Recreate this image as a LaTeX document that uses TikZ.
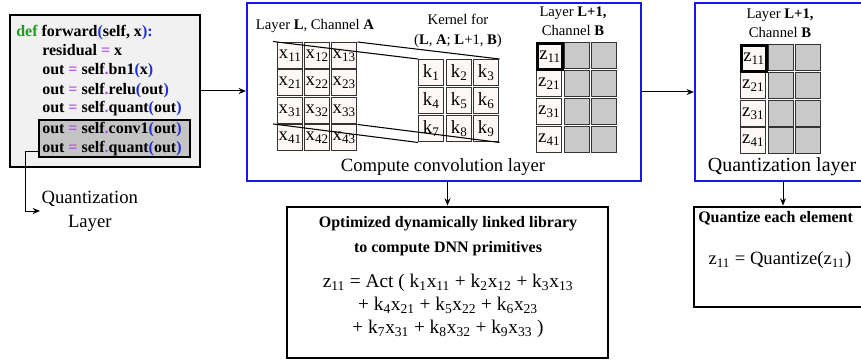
\documentclass[tikz,border=0pt]{standalone}
\usepackage{fontspec}
\setmainfont{Liberation Serif}
\usetikzlibrary{fit,arrows.meta,calc}

\definecolor{kwgreen}{HTML}{1E9E1E}
\definecolor{opviolet}{HTML}{B04FE6}
\definecolor{parblue}{HTML}{1F2FD6}
\definecolor{codebg}{HTML}{F1F1F1}
\definecolor{hlgray}{HTML}{C4C4C4}
\definecolor{cellfill}{HTML}{FDF8F6}
\definecolor{cellgray}{HTML}{C9C9C9}
\definecolor{frameblue}{HTML}{1A1AE6}

% syntax colouring for the code listing
\newcommand\kw[1]{\textcolor{kwgreen}{#1}}
\newcommand\opr[1]{\textcolor{opviolet}{#1}}
\newcommand\pn[1]{\textcolor{parblue}{#1}}
\newcommand\sbs[1]{\textsubscript{#1}}

\begin{document}
\begin{tikzpicture}[x=0.75pt,y=-0.75pt,
  >={Stealth[length=5.5pt,width=4.5pt]},
  conn/.style={->,line width=0.75pt},
  codeline/.style={anchor=base west,inner sep=0pt,font=\fontsize{12}{14}\selectfont\bfseries},
  cell/.style={draw=black!80,line width=1.1pt,fill=cellfill,minimum width=18.75pt,
    minimum height=19.5pt,inner sep=0pt,anchor=north west,font=\fontsize{14}{14}\selectfont},
  graycell/.style={cell,fill=cellgray},
  zfirst/.style={cell,draw=black,line width=2.4pt},
  bluebox/.style={draw=frameblue,line width=1.6pt,inner sep=0pt},
  blackbox/.style={draw=black,line width=2.2pt,inner sep=0pt},
  label/.style={font=\fontsize{11}{14.5}\selectfont,align=center,inner sep=0pt}]

\useasboundingbox (0,0) rectangle (861,360);
\clip (0,0) rectangle (861,360);

% ---------- code listing ----------
\node[fit={(10,15) (200,167)},draw,line width=1.9pt,fill=codebg,inner sep=0pt] (code) {};
\node[fit={(39,120) (190,157)},draw,line width=0.8pt,fill=hlgray,inner sep=0pt] (hl) {};
\node[codeline] (c1) at (16,37) {\kw{def} forward\pn{(}self, x\pn{):}};
\node[codeline] (c2) at (42,56) {residual \opr{=} x};
\node[codeline] (c3) at (42,75) {out \opr{=} self\opr{.}bn1\pn{(}x\pn{)}};
\node[codeline] (c4) at (42,94) {out \opr{=} self\opr{.}relu\pn{(}out\pn{)}};
\node[codeline] (c5) at (42,113) {out \opr{=} self\opr{.}quant\pn{(}out\pn{)}};
\node[codeline] (c6) at (42,133) {out \opr{=} self\opr{.}conv1\pn{(}out\pn{)}};
\node[codeline] (c7) at (42,152) {out \opr{=} self\opr{.}quant\pn{(}out\pn{)}};

\node[anchor=west,align=center,inner sep=1pt,font=\fontsize{14}{18}\selectfont] (qlab) at (40,211) {Quantization\\Layer};
\draw[conn] ($(hl.south west)+(0,-6)$) -- ++(-13,0) |- (qlab.west);

% ---------- convolution layer ----------
\node[fit={(247,3) (641,181)},bluebox] (conv) {};
\node[label] (labx) at (315,26) {Layer \textbf{L}, Channel \textbf{A}};
\node[label] (labk) at (458,31) {Kernel for\\(\textbf{L}, \textbf{A}; \textbf{L}+1, \textbf{B})};
\node[label] (labz) at (573,21) {Layer \textbf{L+1,}\\Channel \textbf{B}};

\foreach \r/\yy in {1/42,2/69,3/97,4/124}
  \foreach \c/\xx in {1/277,2/304,3/331}
    \node[cell] (x\r\c) at (\xx,\yy) {x\sbs{\r\c}};

\foreach \r/\yy in {0/59,1/87,2/115}
  \foreach \c/\xx in {1/418,2/446,3/473}
    {\pgfmathtruncatemacro\kk{3*\r+\c}
     \node[cell] (k\kk) at (\xx,\yy) {k\sbs{\kk}};}

\foreach \r/\yy in {1/42,2/70,3/98,4/126}
  {\node[cell] (z\r1) at (536,\yy) {z\sbs{\r1}};
   \node[graycell] (z\r2) at (564,\yy) {};
   \node[graycell] (z\r3) at (591,\yy) {};}
\node[zfirst] (z11b) at (536,42) {z\sbs{11}};

% projection of the 3x3 window onto the kernel
\draw[line width=0.8pt,shorten <=-3pt] (x11.north west) -- (k1.north west);
\draw[line width=0.8pt] (x13.north east) -- (k3.north east);
\draw[line width=0.8pt,shorten <=-3pt] (x31.south west) -- (k7.south west);
\draw[line width=0.8pt] (x33.south east) -- (k9.south east);

\node[font=\fontsize{14}{16}\selectfont,inner sep=0pt] (convt) at (443,167) {Compute convolution layer};

% ---------- quantization layer ----------
\node[fit={(695,3) (872,181)},bluebox] (quant) {};
\node[label] (labq) at (780,23) {Layer \textbf{L+1,}\\Channel \textbf{B}};
\foreach \r/\yy in {1/44,2/72,3/100,4/127}
  {\node[cell] (q\r1) at (740,\yy) {z\sbs{\r1}};
   \node[graycell] (q\r2) at (768,\yy) {};
   \node[graycell] (q\r3) at (795,\yy) {};}
\node[zfirst] (q11b) at (740,44) {z\sbs{11}};
\node[font=\fontsize{15}{17}\selectfont,inner sep=0pt] (quantt) at (782,167) {Quantization layer};

% ---------- library box ----------
\node[fit={(287,207) (608,358)},blackbox] (lib) {};
\node[align=center,font=\fontsize{12}{19}\selectfont\bfseries,inner sep=0pt] (libtitle) at (448,236)
  {Optimized dynamically linked library\\to compute DNN primitives};
\node[align=center,font=\fontsize{14.5}{17}\selectfont,inner sep=0pt] (libeq) at (448,306)
  {z\sbs{11} = Act ( k\sbs{1}x\sbs{11} + k\sbs{2}x\sbs{12} + k\sbs{3}x\sbs{13}\\
   + k\sbs{4}x\sbs{21} + k\sbs{5}x\sbs{22} + k\sbs{6}x\sbs{23}\\
   + k\sbs{7}x\sbs{31} + k\sbs{8}x\sbs{32} + k\sbs{9}x\sbs{33} )};

% ---------- quantize box ----------
\node[fit={(694,207) (872,307)},blackbox] (qe) {};
\node[anchor=west,font=\fontsize{12}{14}\selectfont\bfseries,inner sep=0pt] (qetitle) at (698,218) {Quantize each element};
\node[font=\fontsize{14}{16}\selectfont,inner sep=0pt] (qeeq) at (780,260) {z\sbs{11} = Quantize(z\sbs{11})};

% ---------- connectors ----------
\draw[conn] (code.east) -- (code.east -| conv.west);
\draw[conn] (conv.east) -- (conv.east -| quant.west);
\draw[conn] (lib.north |- conv.south) -- (lib.north);
\draw[conn] (qe.north |- quant.south) -- (qe.north);
\end{tikzpicture}
\end{document}
